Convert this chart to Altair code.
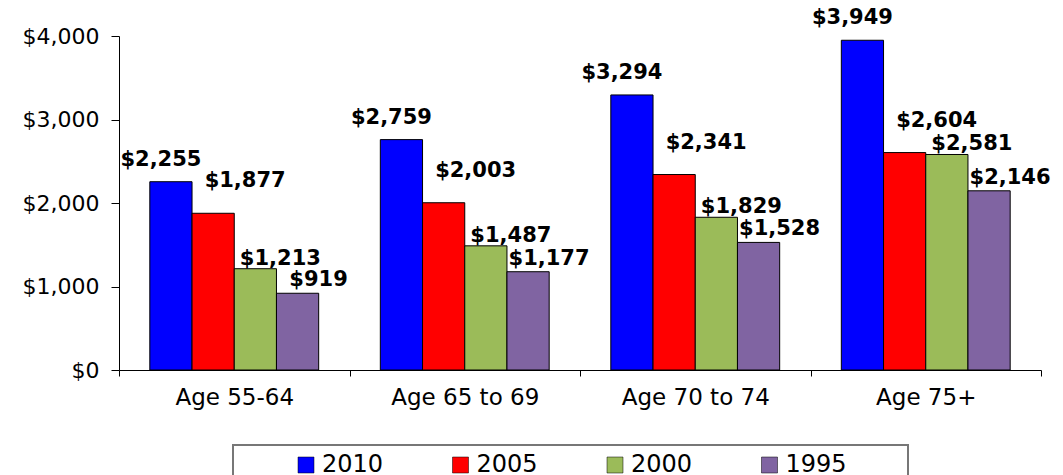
import altair as alt
import pandas as pd

categories = ["Age 55-64", "Age 65 to 69", "Age 70 to 74", "Age 75+"]
series = ["2010", "2005", "2000", "1995"]
v2010 = [2255, 2759, 3294, 3949]
v2005 = [1877, 2003, 2341, 2604]
v2000 = [1213, 1487, 1829, 2581]
v1995 = [919, 1177, 1528, 2146]
colors = ["#0000FF", "#FF0000", "#9BBB59", "#8064A2"]
y_ticks = [0, 1000, 2000, 3000, 4000]

rows = []
for s, vals in zip(series, [v2010, v2005, v2000, v1995]):
    for c, v in zip(categories, vals):
        rows.append({"category": c, "year": s, "value": v})
df = pd.DataFrame(rows)

FONT = "DejaVu Sans"
NB = "\u00a0"
BLANK = "\u2800"

x_enc = alt.X(
    "category:N", sort=categories,
    scale=alt.Scale(paddingInner=0, paddingOuter=0),
    axis=alt.Axis(title=None, labelAngle=0, tickBand="extent", tickSize=6,
                  domainColor="black", tickColor="black", labelColor="black",
                  labelFont=FONT, labelFontSize=23, labelPadding=10),
)
y_enc = alt.Y(
    "value:Q",
    scale=alt.Scale(domain=[0, 4000], nice=False),
    axis=alt.Axis(title=None, values=y_ticks, format="$,.0f", grid=False,
                  tickSize=8, domainColor="black", tickColor="black",
                  labelColor="black", labelFont=FONT, labelFontSize=22,
                  labelPadding=12),
)
xoff_enc = alt.XOffset("year:N", sort=series,
                       scale=alt.Scale(domain=series, paddingOuter=0.73, paddingInner=0))

base = alt.Chart(df)

bars = base.mark_bar(stroke="black", strokeWidth=1).encode(
    x=x_enc, y=y_enc, xOffset=xoff_enc,
    color=alt.Color(
        "year:N", sort=series,
        scale=alt.Scale(domain=series, range=colors),
        legend=alt.Legend(
            title=NB, titleOrient="left", titlePadding=53, titleFontSize=10,
            orient="none", legendX=114, legendY=409, direction="horizontal",
            symbolType="square", symbolSize=256, symbolStrokeColor="black",
            symbolStrokeWidth=0.5,
            labelFont=FONT, labelFontSize=24, labelColor="black", labelOffset=4,
            columnPadding=64.5, strokeColor="#777777", padding=8,
            fillColor="white",
            labelExpr="datum.label == '1995' ? datum.label + '" + BLANK * 3 + "' : datum.label",
        ),
    ),
)

offsets = {"2010": (-10, -22), "2005": (32, -32), "2000": (25, -10), "1995": (21, -13)}
layers = [bars]
for s in series:
    dx, dy = offsets[s]
    layers.append(
        base.transform_filter(alt.datum.year == s)
        .mark_text(dx=dx, dy=dy, font=FONT, fontSize=21, fontWeight="bold",
                   color="black", baseline="middle")
        .encode(x=x_enc, y=y_enc, xOffset=xoff_enc,
                text=alt.Text("value:Q", format="$,.0f"))
    )

chart = alt.layer(*layers).properties(
    width=922, height=334,
    autosize=alt.AutoSizeParams(type="none"),
    padding={"left": 119, "top": 36, "right": 22, "bottom": 105},
    background="white",
).configure_view(stroke=None).configure_legend(strokeWidth=2)

chart.save("out.html", embed_options={"renderer": "svg", "actions": False})
